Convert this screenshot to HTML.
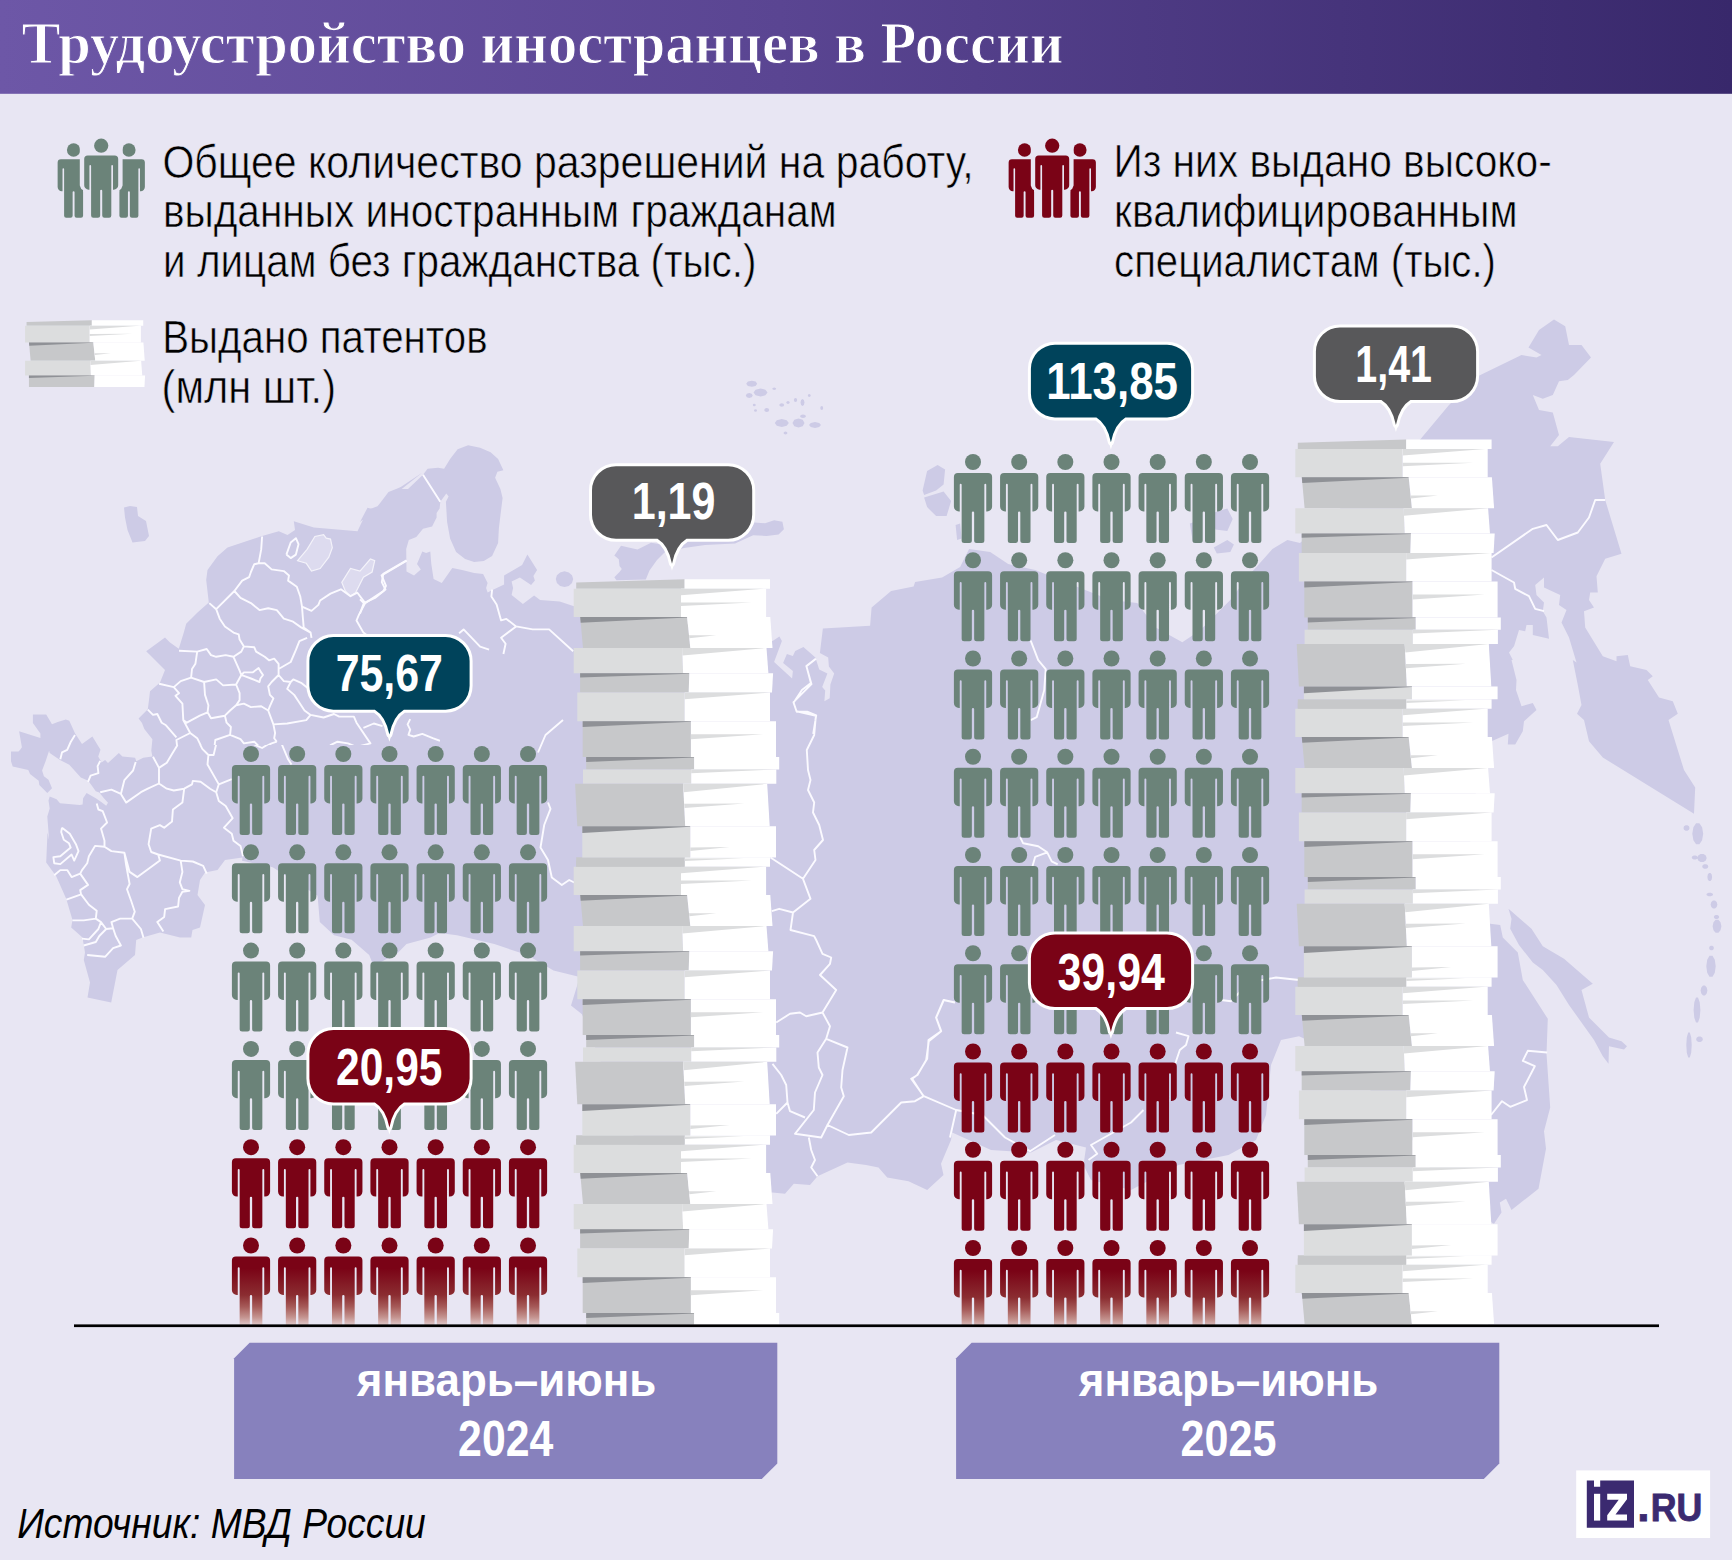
<!DOCTYPE html>
<html lang="ru"><head><meta charset="utf-8"><title>Трудоустройство иностранцев в России</title>
<style>
html,body{margin:0;padding:0;background:#e8e6f3;}
body{width:1732px;height:1560px;overflow:hidden;}
svg{display:block}
text{font-family:"Liberation Sans",sans-serif;}
.ttl{font-family:"Liberation Serif",serif;font-weight:bold;fill:#fff;stroke:url(#hg);stroke-width:1px;}
.lg{fill:#000;stroke:#e8e6f3;stroke-width:0.6px;}
.num{font-weight:bold;fill:#fff;}
.src{font-style:italic;fill:#000;}
</style></head><body>
<svg width="1732" height="1560" viewBox="0 0 1732 1560">
<defs>
<linearGradient id="hg" gradientUnits="userSpaceOnUse" x1="0" y1="0" x2="1732" y2="0"><stop offset="0" stop-color="#6d57a7"/><stop offset="0.45" stop-color="#5a4592"/><stop offset="1" stop-color="#38286b"/></linearGradient>
<linearGradient id="fadeR" gradientUnits="userSpaceOnUse" x1="0" y1="23" x2="0" y2="81"><stop offset="0" stop-color="#7a0316"/><stop offset="0.46" stop-color="#8b2d31"/><stop offset="0.66" stop-color="#a65a58"/><stop offset="0.84" stop-color="#c4938f"/><stop offset="0.945" stop-color="#d9bcbc"/><stop offset="1" stop-color="#e6d6da"/></linearGradient>

<g id="p"><circle cx="0" cy="0" r="8"/><path d="M-15.1,11H15.1A4,4 0 0 1 19.1,15V44.4A5,5 0 0 1 14.1,49.4H13.25V22.75A.95,.95 0 0 0 11.35,22.75V78.5A2.5,2.5 0 0 1 8.85,81H3.65A2.5,2.5 0 0 1 1.15,78.5V50.6A1.15,1.15 0 0 0 -1.15,50.6V78.5A2.5,2.5 0 0 1 -3.65,81H-8.85A2.5,2.5 0 0 1 -11.35,78.5V22.75A.95,.95 0 0 0 -13.25,22.75V49.4H-14.1A5,5 0 0 1 -19.1,44.4V15A4,4 0 0 1 -15.1,11Z"/></g>
<g id="u"><polygon points="2.5,3.2 110.9,0 110.9,9.5 2.5,9.5" fill="#c7c8ca"/><polygon points="110.9,0 196.3,0 196.3,9.5 110.9,9.5" fill="#ffffff"/><polygon points="0,9.5 107.3,9.5 107.3,37.7 0,37.7" fill="#dcddde"/><polygon points="107.3,9.5 192.4,9.5 192.4,37.7 107.3,37.7" fill="#ffffff"/><polygon points="107.3,9.5 190,9.5 107.3,16" fill="#dcddde"/><polygon points="107.3,23.3 178.2,23.2 107.3,26.7" fill="#dcddde"/><polygon points="6.5,37.7 113.4,37.7 116.6,68.8 9.3,68.8" fill="#c7c8ca"/><polygon points="6.5,37.7 113.4,37.7 113.4,38.3 7,43.5" fill="#8f9196"/><polygon points="113.4,37.7 196.6,37.7 198.8,68.8 116.6,68.8" fill="#ffffff"/><polygon points="115.3,56.1 142.6,56.1 115.6,59" fill="#dcddde"/><polygon points="0,68.8 108.4,68.8 109.4,94 0,94" fill="#dcddde"/><polygon points="108.4,68.8 192.8,68.8 194.7,94 109.4,94" fill="#ffffff"/><polygon points="108.4,68.8 192.5,68.8 108.7,76.2" fill="#dcddde"/><polygon points="6.4,94 115.6,94 115,113.4 6.4,113.4" fill="#c7c8ca"/><polygon points="6.4,94 115.6,94 115.6,94.5 6.4,98.2" fill="#8f9196"/><polygon points="115.6,94 199.4,94 198.3,113.4 115,113.4" fill="#ffffff"/><polygon points="3.6,113.4 110.9,113.4 110.9,142 3.6,142" fill="#dcddde"/><polygon points="110.9,113.4 196.3,113.4 196.3,142 110.9,142" fill="#ffffff"/><polygon points="110.9,113.4 195.5,113.4 110.9,120" fill="#dcddde"/><polygon points="9,142 117.2,142 117.2,177.9 9,177.9" fill="#c7c8ca"/><polygon points="9,142 117.2,142 117.2,142.5 9,147.9" fill="#8f9196"/><polygon points="117.2,142 202.3,142 202.3,177.9 117.2,177.9" fill="#ffffff"/><polygon points="117.2,155 189.6,155 117.2,160.1" fill="#dcddde"/><polygon points="12.5,177.9 120.4,177.9 120.4,190.2 12.5,190.2" fill="#c7c8ca"/><polygon points="12.5,177.9 120.4,177.9 120.4,178.4 12.5,182.9" fill="#8f9196"/><polygon points="120.4,177.9 205.5,177.9 205.5,190.2 120.4,190.2" fill="#ffffff"/><polygon points="9.3,190.2 117.5,190.2 117.5,204.6 9.3,204.6" fill="#dcddde"/><polygon points="117.5,190.2 202.6,190.2 202.6,204.6 117.5,204.6" fill="#ffffff"/><polygon points="117.5,190.2 202.5,190.2 117.5,194" fill="#dcddde"/><polygon points="1.4,204.6 109.4,204.6 111.5,247 3.6,247" fill="#c7c8ca"/><polygon points="109.4,204.6 193.5,204.6 196,247 111.5,247" fill="#ffffff"/><polygon points="109.4,204.6 193.5,204.6 110,213.1" fill="#dcddde"/><polygon points="110.5,224.5 170.6,224.3 110.8,228.7" fill="#dcddde"/><polygon points="8.6,247 116.6,247 116.6,278.2 8.6,278.2" fill="#dcddde"/><polygon points="8.6,247 116.6,247 116.6,247.6 8.6,253.7" fill="#8f9196"/><polygon points="116.6,247 202.3,247 202.3,278.2 116.6,278.2" fill="#ffffff"/><polygon points="116.6,268.3 156,267.7 116.6,271.9" fill="#dcddde"/></g>
<g id="uh"><polygon points="2.5,3.2 110.9,0 110.9,9.5 2.5,9.5" fill="#c7c8ca"/><polygon points="110.9,0 196.3,0 196.3,9.5 110.9,9.5" fill="#ffffff"/><polygon points="0,9.5 107.3,9.5 107.3,37.7 0,37.7" fill="#dcddde"/><polygon points="107.3,9.5 192.4,9.5 192.4,37.7 107.3,37.7" fill="#ffffff"/><polygon points="107.3,9.5 190,9.5 107.3,16" fill="#dcddde"/><polygon points="107.3,23.3 178.2,23.2 107.3,26.7" fill="#dcddde"/><polygon points="6.5,37.7 113.4,37.7 116.6,68.8 9.3,68.8" fill="#c7c8ca"/><polygon points="6.5,37.7 113.4,37.7 113.4,38.3 7,43.5" fill="#8f9196"/><polygon points="113.4,37.7 196.6,37.7 198.8,68.8 116.6,68.8" fill="#ffffff"/><polygon points="115.3,56.1 142.6,56.1 115.6,59" fill="#dcddde"/><polygon points="0,68.8 108.4,68.8 109.4,94 0,94" fill="#dcddde"/><polygon points="108.4,68.8 192.8,68.8 194.7,94 109.4,94" fill="#ffffff"/><polygon points="108.4,68.8 192.5,68.8 108.7,76.2" fill="#dcddde"/><polygon points="6.4,94 115.6,94 115,113.4 6.4,113.4" fill="#c7c8ca"/><polygon points="6.4,94 115.6,94 115.6,94.5 6.4,98.2" fill="#8f9196"/><polygon points="115.6,94 199.4,94 198.3,113.4 115,113.4" fill="#ffffff"/></g>
<g id="uc"><polygon points="2.5,0 110.9,0 110.9,9.5 2.5,9.5" fill="#c7c8ca"/><polygon points="110.9,1.2 170,1 110.9,3.8" fill="#dcddde"/></g>
<clipPath id="cpp"><rect x="0" y="0" width="1732" height="1325"/></clipPath>
<clipPath id="c24"><rect x="560" y="570" width="240" height="754.6"/></clipPath>
<clipPath id="c25"><rect x="1280" y="430" width="240" height="894.6"/></clipPath>
<clipPath id="c25a"><rect x="1280" y="430" width="240" height="269.2"/></clipPath>
</defs>
<rect width="1732" height="1560" fill="#e8e6f3"/>
<g id="map"><path fill="#cdcbe6" d="M360,522.1L367.5,507.8L375,509.8L388.5,492.1L399.8,487.6L408,489.1L423,474.8L427.6,468.8L438.1,467.7L444.1,468.8L450.1,459L457.6,449.3L468.1,445.2L480.1,447.8L490.6,452.3L498.1,459L503.4,470.3L497.4,471.8L495.1,477.8L500.4,489.1L502.6,498.1L501.1,510.1L498.9,528.1L498.1,543.1L492.1,555.9L483.8,561.1L474.1,561.9L465.1,558.9L456.1,552.1L450.1,538.6L447.1,522.1L445.9,501.8L448.6,496.6L446.3,493.6L440.3,501.8L439.6,508.6L436.6,513.1L436.6,517.6L432.1,526.6L423,528.8L416.3,537.1L408.8,540.1L406.2,549.1L406.5,571.6L414,575.4L420.8,569.4L417,564.1L422.3,551.4L426.1,552.9L430.3,551.4L431.3,564.1L433.6,579.1L441.8,582.9L452.3,567.9L462.1,570.1L474.1,573.1L483.1,573.9L487.6,582.9L486.1,588.1L487.6,592.6L493.6,589.6L504.1,584.4L504.1,575.4L522.1,564.9L527.4,554.4L537.1,570.1L533.4,576.1L534.9,580.6L531.1,585.1L519.9,577.6L511.6,581.4L513.1,588.1L511.6,594.9L522.9,603.9L534.1,595.6L540.1,600.1L559.7,601.6L573.2,606.1L772.6,641.1L779.4,636.6L781.9,641.1L774.1,662.1L792.1,678.6L792.9,671.1L783.1,662.9L786.9,653.9L792.9,656.1L795.2,650.9L803.4,647.1L815.4,657.6L819.2,669.6L827.4,673.4L822.2,686.9L825.2,690.6L824.4,701.2L829.7,698.2L830.4,684.6L834.2,673.4L828.9,666.6L828.2,657.6L819.9,653.1L822.9,628.3L822.9,628.4L870.1,625.7L871.6,607.6L891.1,591.1L913.6,586.6L915.1,582.1L942.1,577.6L960.1,567.1L969.1,549.1L990.2,552.1L1008.2,564.1L1035.2,570.1L1080.2,588.1L1110.3,600.1L1137.3,603.1L1155.3,627.2L1182.3,642.2L1200.3,630.2L1218.3,612.1L1230.3,600.1L1248.4,576.1L1272.4,549.1L1287.4,540.1L1300,543.1L1420.2,439.5L1449,405L1477.8,376.2L1521.5,355L1536.5,357.5L1541.5,355L1528.5,347.5L1539,330L1554,319.5L1565.2,326.2L1569,345L1581.5,345L1591,357.5L1574,375L1567.8,380L1559,381.2L1552.8,395L1542.8,398.8L1532.8,395L1539,410L1552.8,412.5L1559,435L1550.2,446.2L1557.8,446.2L1569,437L1614,442L1600.2,463.8L1605.2,500L1621.5,553.8L1605.2,558.8L1596.5,576.2L1597.8,592.5L1590.2,592.5L1589,600L1594,607.5L1584,611.2L1585.2,627.5L1602.8,656.2L1616.5,661.2L1616.5,656.2L1627.8,655L1630.2,666.2L1646.5,670L1652.8,676.2L1647.8,680L1659,697.5L1672.8,701.2L1677.8,713.8L1668.5,720L1684,770L1695.2,787.5L1694,813.8L1602.8,757.5L1589,741.2L1584,720L1577,713.8L1581.5,705L1577.8,685L1572.8,660L1576.5,662.5L1569,637.5L1561.5,622.5L1566.5,610L1559,605L1560.2,595L1544,587.5L1544,577.5L1535.2,585L1536.5,595L1544,602.5L1542.8,611.2L1546.5,617.5L1549,638.8L1532.8,635L1532.8,625L1526.5,625L1525.2,631.2L1519,630L1514,646.2L1509,652.5L1512.8,660L1511.5,660L1516.5,680L1516,690L1521.5,706.2L1532.8,703L1536.5,710L1524,721.2L1522.8,731.2L1515.2,744.5L1507.8,744.5L1508.5,733.8L1491.5,741.2L1480,760L1470,840L1484,915L1490.2,923.8L1500.2,925L1502.8,937.5L1517.8,952.5L1522.8,980L1547.8,1018.8L1546.5,1053.8L1550.2,1107.5L1544,1131.2L1546,1148.8L1538.5,1188.8L1511.5,1210L1506,1198.8L1499.8,1202.5L1501.5,1212.5L1494,1223.8L1450,1200L1400,1120L1330,1050L1299,1036.2L1281,1040L1271,1065L1266,1115L1256,1140L1228.5,1155L1178.5,1165L1131,1190L1091,1180L1083.5,1165L1086,1147.5L1056,1140L1031,1152.5L991,1150L952.2,1132.5L951,1140L941,1163.8L943.5,1175L927.2,1190L908.5,1181.2L887.2,1177.5L878.5,1167.5L866,1165L847.5,1162.5L817.5,1176.2L810,1185L793.8,1183.8L785,1193.8L772.5,1192.5L700,1190L640,1150L600,1060L582,1014.3L571,1005.5L579.8,977L553.5,970.4L527.2,955.1L494.3,944.1L457,935.3L439.4,933.1L430.6,937.5L406.5,944.1L397.7,952.9L373.6,966L369.2,955.1L351.6,939.7L334.1,935.3L319.8,922.1L317.6,895.8L272.7,867.3L242,860.7L242.5,857.5L225,860L217.5,870L205,872.5L200,880L197.5,895L205,905L200,927.5L192.5,930L191.2,937.5L180,937.5L160,932.5L142.5,937.5L136.2,940L135,955L117.5,970L111.2,1002.5L87.5,997.5L90,982.5L83.8,960L85,952.5L82.5,937.5L71.2,927.5L72.5,920L66.2,898.8L56.2,876.2L46.2,862.5L47.5,832.5L49.1,840L47.3,816.6L49.7,808.5L48.5,800.5L49.7,796.4L56.6,799.3L60,803.3L79.7,805.1L82.6,804.5L83.1,798.2L86.6,793L95.8,798.2L101.6,802.2L106.2,805.7L108,802.8L103.9,798.2L99.3,792.4L95.8,791.2L88.3,780.8L80.8,777.4L69.3,764.7L60,760L49.7,753.1L49.1,750.8L45.6,761.2L42.1,770.4L43.9,776.2L48.5,779.7L52,788.3L47.3,793L39.3,784.9L38.7,780.8L30,773.9L28.3,769.9L12.7,766.4L11,761.2L11,751.4L18.5,751.4L20.2,749.7L21.9,747.3L19.1,731.2L40.4,738.1L40.4,733.5L32.9,723.1L32.9,714.4L46.2,714.4L52,724.2L57.7,721.9L65.8,719.6L69.3,720.8L75.1,733.5L82,743.9L92.4,736.4L100.5,749.7L98.2,756.6L101.6,762.4L105.1,760L108,762.9L118.9,753.1L122.4,756.6L135.1,757.7L136.3,761.2L143.2,757.7L152.4,756.6L151.3,750.8L152.4,739.3L144.3,728.9L142,723.1L138.6,718.5L147.8,709.2L149,700L150,691.2L160,682.5L165,670L155,660L146.2,651.2L165,637.5L170,642.5L178.8,648.8L183.8,632.5L186.2,623.8L197.5,612.5L208.8,602.5L206.2,580L207.5,570L217.5,556.2L227.5,547.5L242.5,542.5L261.2,536.2L278.8,531.2L287.5,535L295,530L293.8,521.2L313.8,527.5L357.5,531.2L367.5,510L377.5,506.2L388.8,492.5L400,487.5L422.5,472.5ZM124,507.5L130,506L137,507L138,516L146,521L149,536L145,541L132.5,542.5L127.5,530L125,517.5ZM1508.5,908.8L1531.5,928.8L1542.8,946.2L1564,958.8L1592.8,983.8L1581.5,990L1589,1017.5L1609,1037.5L1621.5,1041.2L1627,1046.2L1624,1049.5L1609,1046.2L1608.5,1063.8L1602.8,1056.2L1594,1040L1569,1005L1556.5,985L1542.8,970L1532.8,962.5L1519,945L1510.2,928.8L1511.5,918.8ZM614.3,555.5L621,545.8L637.5,549.5L651,542.8L666.1,545L684.1,534.5L705.1,530L727.6,532.3L747.9,533.8L754.6,522.5L765.1,523.3L774.1,520.3L782.4,521.8L783.9,529.3L778.6,534.5L766.6,536L753.1,535.3L735.1,543.5L705.1,545L684.1,548L664.5,552.5L657,560L649.5,570.6L645.8,579.6L616.5,580.3L614.3,577.3L619.5,572.1L621.8,569.1L619.5,566.1L618.8,559.3ZM573.2,579.1L572,583L568.8,585.9L564.5,586.9L560.1,585.9L556.9,583L555.8,579.1L556.9,575.2L560.1,572.4L564.5,571.3L568.8,572.4L572,575.2ZM922.6,490.6L927.1,471L937.6,465L945.1,469.5L943.6,484.5L936.1,490.6L924.1,495.1ZM924.1,497.5L943.6,491.5L951.1,501.1L946.6,516.1L936.1,516.1L927.1,507.1ZM955.6,525.1L960.1,523.6L961.6,538.6L957.1,540.1ZM1189.8,523.6L1198.8,520.6L1201.8,537.1L1192.8,541.6ZM1212.3,513.1L1227.3,508.6L1232.7,519.1L1227.3,531.1L1215.3,529.6ZM1213.8,547.6L1227.3,540.1L1233.9,544.6L1230.3,552.1L1216.8,553.6ZM757.2,383.8L755.6,385.9L751.8,386.8L747.9,385.9L746.2,383.8L747.9,381.6L751.8,380.8L755.6,381.6ZM767.5,392.5L765.4,395.3L760.5,396.5L755.6,395.3L753.5,392.5L755.6,389.7L760.5,388.5L765.4,389.7ZM752.8,395.5L751.7,397.3L749.2,398L746.8,397.3L745.8,395.5L746.8,393.7L749.2,393L751.7,393.7ZM769.2,410L768.5,411.4L766.8,412L765,411.4L764.2,410L765,408.6L766.8,408L768.5,408.6ZM776.2,388.8L775.7,389.6L774.2,390L772.8,389.6L772.2,388.8L772.8,387.9L774.2,387.5L775.7,387.9ZM784.2,405L783.5,406.2L781.8,406.8L780,406.2L779.2,405L780,403.8L781.8,403.2L783.5,403.8ZM789.8,402.5L789.2,403.6L788,404L786.8,403.6L786.2,402.5L786.8,401.4L788,401L789.2,401.4ZM797.2,400L796.7,401.4L795.5,402L794.3,401.4L793.8,400L794.3,398.6L795.5,398L796.7,398.6ZM804.5,402.5L803.9,405L802.5,406L801.1,405L800.5,402.5L801.1,400L802.5,399L803.9,400ZM810.8,395.5L810.3,396.6L809.2,397L808.2,396.6L807.8,395.5L808.2,394.4L809.2,394L810.3,394.4ZM823.2,408L822.8,409.4L821.8,410L820.7,409.4L820.2,408L820.7,406.6L821.8,406L822.8,406.6ZM806,416.2L805.1,417.5L803,418L800.9,417.5L800,416.2L800.9,415L803,414.5L805.1,415ZM788.8,423L786.7,425.8L781.8,427L776.8,425.8L774.8,423L776.8,420.2L781.8,419L786.7,420.2ZM804.5,423L802.7,426.2L798.5,427.5L794.3,426.2L792.5,423L794.3,419.8L798.5,418.5L802.7,419.8ZM821,425L819.2,427.1L815,428L810.8,427.1L809,425L810.8,422.9L815,422L819.2,422.9ZM787.5,433L786.9,434.1L785.5,434.5L784.1,434.1L783.5,433L784.1,431.9L785.5,431.5L786.9,431.9ZM755.8,405L755.3,405.9L754.2,406.2L753.2,405.9L752.8,405L753.2,404.1L754.2,403.8L755.3,404.1ZM757,410.5L756.6,411.4L755.5,411.8L754.4,411.4L754,410.5L754.4,409.6L755.5,409.2L756.6,409.6ZM1689.5,828L1689,829.7L1687.4,830.7L1685.6,830.7L1684,829.7L1683.5,828L1684,826.3L1685.6,825.3L1687.4,825.3L1689,826.3ZM1703.2,833.8L1702.1,840.2L1699.4,844.2L1696.1,844.2L1693.4,840.2L1692.3,833.8L1693.4,827.3L1696.1,823.3L1699.4,823.3L1702.1,827.3ZM1697.8,857.5L1697.2,858.7L1695.7,859.5L1693.8,859.5L1692.3,858.7L1691.7,857.5L1692.3,856.3L1693.8,855.5L1695.7,855.5L1697.2,856.3ZM1706.7,858L1705.8,860.5L1703.5,862L1700.5,862L1698.2,860.5L1697.3,858L1698.2,855.5L1700.5,854L1703.5,854L1705.8,855.5ZM1708.3,866.5L1707.7,867.9L1706.2,868.7L1704.3,868.7L1702.8,867.9L1702.2,866.5L1702.8,865.1L1704.3,864.3L1706.2,864.3L1707.7,865.1ZM1712.1,877L1711.7,879.5L1710.5,881L1709,881L1707.8,879.5L1707.4,877L1707.8,874.5L1709,873L1710.5,873L1711.7,874.5ZM1713.1,894.5L1712.5,895.6L1710.8,896.2L1708.7,896.2L1707,895.6L1706.4,894.5L1707,893.4L1708.7,892.8L1710.8,892.8L1712.5,893.4ZM1717.4,904.5L1716.7,907L1715,908.5L1713,908.5L1711.3,907L1710.6,904.5L1711.3,902L1713,900.5L1715,900.5L1716.7,902ZM1719.2,917L1718.7,918.2L1717.3,919L1715.7,919L1714.3,918.2L1713.8,917L1714.3,915.8L1715.7,915L1717.3,915L1718.7,915.8ZM1721.4,926.2L1720.5,930.3L1718.4,932.7L1715.6,932.7L1713.5,930.3L1712.6,926.2L1713.5,922.2L1715.6,919.8L1718.4,919.8L1720.5,922.2ZM1713.9,948L1713.4,949.4L1712.2,950.2L1710.8,950.2L1709.6,949.4L1709.1,948L1709.6,946.6L1710.8,945.8L1712.2,945.8L1713.4,946.6ZM1715.7,966.2L1714.8,972.7L1712.5,976.7L1709.5,976.7L1707.2,972.7L1706.3,966.2L1707.2,959.8L1709.5,955.8L1712.5,955.8L1714.8,959.8ZM1707.4,990.5L1706.7,993.6L1705,995.5L1703,995.5L1701.3,993.6L1700.6,990.5L1701.3,987.4L1703,985.5L1705,985.5L1706.7,987.4ZM1700.4,1010L1699.7,1017.7L1698,1022.5L1696,1022.5L1694.3,1017.7L1693.6,1010L1694.3,1002.3L1696,997.5L1698,997.5L1699.7,1002.3ZM1691.7,1045L1691.2,1052.7L1689.8,1057.5L1688.2,1057.5L1686.8,1052.7L1686.3,1045L1686.8,1037.3L1688.2,1032.5L1689.8,1032.5L1691.2,1037.3ZM1702.9,1039.2L1702.2,1040.9L1700.5,1042L1698.5,1042L1696.8,1040.9L1696.1,1039.2L1696.8,1037.6L1698.5,1036.5L1700.5,1036.5L1702.2,1037.6Z"/><path fill="#dddbef" stroke="#f4f3fa" stroke-width="1.2" d="M297.6,560.7L307.1,549.4L314.9,536.5L323.6,534.7L326.2,538.2L330.5,539.1L332.3,547.7L328.8,557.2L320.1,568.5L311.5,571.1L306.3,563.3ZM341.8,582.4L350.5,568.5L360,571.1L370.4,559L374.7,560.7L372.1,572L363.4,577.2L355.6,592.7L350.5,596.2L345.3,591Z"/><clipPath id="cb1"><rect x="140" y="500" width="300" height="245"/></clipPath><clipPath id="cb2"><polygon points="0,680 140,680 140,745 440,745 440,1000 0,1000"/></clipPath><path fill="none" stroke="#fbfaff" stroke-width="1.9" stroke-linejoin="round" clip-path="url(#cb1)" d="M262.1,536.5L261.2,549.4L258.6,563.3L254.3,564.2L250.9,572L249.1,577.2L242.2,580.6L234.4,591L216.2,609.2L209.3,603.1M258.6,563.3L264.7,563.3L271.6,569.4L283.8,571.1L289,575.4L288.1,580.6L296.8,586.7L300.2,596.2L302,606.6L302.8,617L303.7,627.4L310.6,632.6L311.5,637.8M234.4,591L240.5,597.9L250.9,603.1L259.5,610.1L268.2,608.3L276.8,610.1L283.8,618.7L292.4,621.3L301.1,627.4L310.6,632.6M302,606.6L311.5,610.9L318.4,604.9L320.1,600.5L330.5,593.6L340.9,589.3L350.5,596.2L357.4,592.7L365.2,603.1L383.4,591L386,585.8L381.6,575.4L406.7,560.7M365.2,603.1L359.1,614.4L356.5,620.5L363.4,632.6L366.9,635.2M216.2,609.2L219.7,618.7L224.9,626.5L233.5,632.6L238.7,634.3L239.6,639.5L243.9,646.4L254.3,647.3L256.1,651.6L264.7,656.8L269,660.3L274.2,658.6L278.6,663.8L278.6,669L290.7,662L295.9,649.9L299.4,641.2L307.1,637.8M243.9,646.4L241.3,651.6L233.5,656.8L225.7,655.1L216.2,656.8L211,655.1L206.7,649L197.2,651.6L179,650.8M197.2,651.6L195.4,663.8L192,669L191.1,677.6L180.7,681.1L173.8,687.1L159.1,683.7M191.1,677.6L204.1,682L216.2,679.4L223.1,685.4L236.1,684.5L241.3,675L239.6,670.7L233.5,656.8M241.3,675L243.9,672.4L252.6,672.4L258.6,668.1L261.2,672.4L263,675L260.4,678.5L259.5,682L250.9,678.5L243.9,675.9L241.3,675M236.1,684.5L239.6,693.2L239.6,700.1L236.1,705.3L243.9,703.6L250.9,707.1L261.2,706.2L268.2,710.5L273.4,724.4L275.1,733L274.2,738.2L276.8,741.7M278.6,669L278.6,675L271.6,682L268.2,686.3L269.9,694.9L273.4,698.4L269.9,706.2L268.2,710.5M204.1,682L205,694.9L208.4,705.3L207.6,712.3L211,718.3L224.9,715.7L230.1,710.5L236.1,705.3M173.8,687.1L179,693.2L175.5,695.8L182.4,703.6L183.3,720.1L186.8,722.7L199.8,715.7L207.6,712.3M183.3,720.1L190.2,733L176.4,740L177.2,746.9L169.4,752.1L166.8,761.6L158.2,768.6L160.8,783.3L164.2,790M147.8,709.7L153,714.9L157.3,714L161.7,722.7L166,725.3L176.4,737.4M190.2,733L197.2,738.2L201.5,746.9L205.8,752.1L209.3,762.5L212.7,776.4L216.2,783.3L212.7,790M224.9,715.7L226.6,722.7L230.9,727L230.1,734.8L215.3,740L213.6,753.8L209.3,756.4M230.1,734.8L240.5,739.1L243.9,743.4L254.3,741.7L261.2,748.6L271.6,743.4L276.8,741.7M273.4,724.4L287.2,723.5L306.3,720.1L310.6,714.9L323.6,717.5L334,714L339.2,716.6L353.9,716.6L356.5,722.7L370.4,743.4L356.5,746.9L347.9,743.4L337.5,741.7L330.5,745.2L323.6,757.3L318.4,762.5M278.6,675L283.8,681.1L290.7,682L287.2,688.9L294.2,694.9L299.4,702.7L304.5,710.5L310.6,714.9M290.7,682L293.3,679.4L301.1,682.8L308.9,688.9M363.4,727.9L373.8,723.5L382.5,726.1M410.2,719.2L407.6,724.4L410.2,729.6L408.5,734.8L413.7,736.5L422.3,733.9L432.7,738.2L440,740.8M286.4,554.6L290.7,542.5L295.9,538.2L298.5,544.2L295.9,554.6L290.7,558.1L286.4,554.6"/><path fill="none" stroke="#fbfaff" stroke-width="1.9" stroke-linejoin="round" clip-path="url(#cb2)" d="M75,735L70.7,742L67.2,749.8L62,752.4L60.3,759.3M100.2,761L97.6,766.2L98.4,773.1L90.6,775.7L88,781.8M135.7,761.9L133.1,770.5L124.4,780.1L120.9,793.9L126.1,802.6L140.9,792.2L147.8,788.7L159,783.5M100.2,792.2L111.4,789.6L120.9,793.9M153,756.7L159,767.9L159,783.5L166.8,788.7L173.8,790.5L184.2,788.7L192,784.4L192.8,780.9L200.6,781.8L210.1,788.7L216.2,792.2L218.8,784.4L231.8,779.2M159,767.9L166.8,762.7L172,754.1L177.2,745.4L175.5,738.5L182.4,732.4L186.8,731.6M148.3,709.6L153.8,716L159.9,722L168.6,730.7L177.2,737.6M177.2,690L177.2,695.2L183.3,702.1L182.4,716L186.8,722.9L194.5,721.2L198,716L206.7,711.7L210.1,718.6L222.3,716L225.7,719.4L231.8,730.7L217.1,740.2L213.6,755L208.4,755M186.8,722.9L186.8,731.6L196.3,736.8L202.3,748.9L208.4,755L207.5,764.5L218.8,784.4M225.7,719.4L237,705.6L240.5,695.2L240.5,690M203.2,690L204.9,700.4L206.7,711.7M241.3,705.6L250,707.3L262.1,705.6L269,710.8L272.5,721.2L276,736.8L269,743.7L262.1,748L246.5,741.1L241.3,736.8L231.8,730.7M272.5,721.2L276,726.4L286.4,724.6L295,722L303.7,722.9L310.6,714.2L324.5,717.7M269,710.8L273.4,700.4L271.6,690M276,736.8L281.2,742.8L288.1,759.3L291.5,764.5M216.2,792.2L218.8,800.9L225.7,806.1L232.7,818.2L224,827.7L231.8,833.8L233.5,840.7L240.5,845.9L243,856.3M184.2,788.7L182.4,802.6L172.9,809.5L172,821.6L164.2,827.7L159.9,825.1L151.2,828.6L148.6,844.2L151.2,852L158.2,854.5L159.9,860.6L137.4,877.1L129.6,871.9L124.4,852.8L111.4,851.1L104.5,846.8M96.7,803.5L98.4,809.5L102.7,811.2L107.1,822.5L101,828.6L104.5,840.7L104.5,846.8L95,845.9L88.9,856.3L87.2,863.2L82,870.1L80.2,873.6M158.2,854.5L180.7,860.6L192.8,861.5L203.2,865.8L206.7,873.6M180.7,860.6L182.4,871.9L179.8,882.3L182.4,889.2L189.4,890.9L182.4,891.8L179,897.9L178.1,906.5L165.1,909.1L164.2,916.9L157.3,922.1L163.4,931.6M124.4,852.8L126.1,864.9L129.6,884L127,889.2L131.3,901.3L134.8,911.7L132.2,918.6L140.9,929L143.5,937.7M80.2,873.6L71.6,877.1L67.2,870.1L60.3,870.1L54.2,875.3M80.2,873.6L88,884.9L80.2,890.1L81.1,894.4L88.9,904.8L96.7,910.8L95.8,918.6L101,922.1L106.2,929L113.1,928.2L111.4,922.1L120.1,918.6L132.2,918.6M81.1,894.4L66.4,899.6M95.8,918.6L83.7,920.4L72.4,920.4M101,922.1L98.4,929L88.9,939.4L82,938.6M106.2,929L99.3,936L95.8,942L83.7,945.5M113.1,928.2L115.7,936L120.9,945.5L113.1,948.1L105.3,956.7L87.2,955M62,827.7L69.8,833.8L75.9,844.2L78.5,851.1L74.2,860.6L71.6,854.5L60.3,864.1L54.2,863.2L53.4,857.1L60.3,856.3L70.7,847.6L69,843.3L63.8,839.8L61.2,832L62,827.7"/><path fill="none" stroke="#fbfaff" stroke-width="1.9" stroke-linejoin="round" d="M815.5,720L814.2,735L806.8,750L808,770L810.5,780L808,790L814.2,802.5L813,812.5L819.2,825L823,840L814.2,850L815.5,860L803,878.8L810.5,898.8L793,912.5L790.5,930L814.2,936.2L816.2,940M770.5,857.5L803,878.8M771.8,911.2L779.2,908.8L793,912.5M538,752.5L545.5,735L563,720M548,802.5L550.5,808.8L544.2,825L540.5,847.5L548,860L551.8,877.5L561.8,885L569.2,880L574.2,882.5M816.2,940L822.5,953.8L831.2,957.5L830,963.8L820,975L836.2,990L822.5,1012.5L830,1026.2L826.2,1038.8L847.5,1047.5L842.5,1070L841.2,1087.5L843.8,1096.2L827.5,1125L848.8,1135L871.2,1132.5L901.2,1102.5L915,1101.2L923.8,1096.2L956.2,1110M822.5,1012.5L806.2,1016.2L800,1012.5L790,1013.8L776.2,1022.5M826.2,1038.8L817.5,1052.5L818.8,1067.5L822.5,1075L815,1092.5L813.8,1110L795,1133.8L821.2,1137.5L827.5,1125M772.5,1063.8L781.2,1075L786.2,1085L787.5,1102.5L790,1111.2L805,1117.5M787.5,1102.5L776.2,1113.8M808.8,1137.5L811.2,1150L815,1160L811.2,1167.5L817.5,1176.2M923.8,1096.2L911.2,1078.8L917.5,1075L926.2,1060L928.8,1041.2L941.2,1031.2L936.2,1017.5L943.8,1000L955,1002.5M956.2,1110L982.5,1115L1005,1137.5L1030,1151.2L1055,1135M956.2,1110L950,1137.5M1547.2,1052.5L1527.8,1050.8L1522.8,1060.8L1534.8,1066.2L1524,1087L1527,1100L1510.2,1106.8L1502,1101.2L1491,1115M1605.2,500L1595.2,500L1589,517.5L1577.8,532.5L1557.8,540L1546.5,525L1532.8,528.8L1491.5,557.5M1491.5,570L1514,582.5L1515.2,588.8L1529,596.2L1535.2,608.8L1544,611.2M816,658.7L806.4,666.2L811.5,684.2L793.5,702.2L796.5,711.2L816,715.7L815.4,720.2M1030.7,640.7L1038.2,660.2L1045.7,669.2L1044.2,690.2L1036.7,717.2L1030.7,720.2M1020.2,837.3L1023.2,843.3L1038.2,846.3L1047.2,852.3L1051.7,861.3L1057.7,864.3M1047.2,852.3L1035.2,856.8L1032.2,867.3M815.4,659.1L806.4,665.9L810.9,683.1L801.9,689.9L793.6,702.7L796.7,711.7L807.2,711.7L816.2,715.4L813.2,734M923.5,1096.2L912.2,1078.8L917.2,1075L927.2,1058.8L928.5,1040L941,1031.2L936,1017.5L943.5,1000L954.8,1002.5M1143.5,1110L1131,1122.5L1091,1145L1097.2,1153.8L1088.5,1160M1176,1032.5L1188.5,1036.2L1186,1045L1179.8,1050L1174.8,1065M1221,1000L1231,1001.2L1236,996.2L1248.5,982.5L1276,977.5L1299,980M423,474.8L440.3,501.8M406.5,560.4L383.3,573.9L381.8,582.1L385.5,589.6L375,597.9L363.8,603.1L360,599.4M363.8,603.1L360,613.6M492.1,589.6L491.4,596.4L496.6,604.6L501.1,620.4L506.4,618.9L516.1,626.4L532.6,629.4L549.1,629.4L573.2,651.2M516.1,626.4L501.1,637.7L505.6,643.7L503.4,654M459.1,633.2L463.6,629.4L480.1,646.7L489.1,649.7"/></g>
<rect x="0" y="0" width="1732" height="93.8" fill="url(#hg)"/>
<text class="ttl" x="21.43" y="63" font-size="59" textLength="1042.10" lengthAdjust="spacingAndGlyphs">Трудоустройство иностранцев в России</text>
<g fill="#6b8379"><use href="#p" transform="translate(73.6,150) scale(0.836)"/><use href="#p" transform="translate(128.9,150) scale(0.836)"/><path d="M79.8,140V185.4Q80.6,189 83.3,190.3V192H101.2V140Z" fill="#e8e6f3"/><path d="M122.6,140V185.4Q121.8,189 119.1,190.3V192H101.2V140Z" fill="#e8e6f3"/><use href="#p" transform="translate(101.2,145.7) scale(0.89)"/></g>
<g fill="#7a0316"><use href="#p" transform="translate(1024.6,150) scale(0.836)"/><use href="#p" transform="translate(1079.9,150) scale(0.836)"/><path d="M1030.8,140V185.4Q1031.6,189 1034.3,190.3V192H1052.2V140Z" fill="#e8e6f3"/><path d="M1073.6,140V185.4Q1072.8,189 1070.1,190.3V192H1052.2V140Z" fill="#e8e6f3"/><use href="#p" transform="translate(1052.2,145.7) scale(0.89)"/></g>
<use href="#uh" transform="translate(25.06,320.2) scale(0.602,0.589)"/>
<text class="lg" x="162.38" y="177.6" font-size="46" textLength="811.22" lengthAdjust="spacingAndGlyphs">Общее количество разрешений на работу,</text>
<text class="lg" x="162.95" y="226.9" font-size="46" textLength="673.81" lengthAdjust="spacingAndGlyphs">выданных иностранным гражданам</text>
<text class="lg" x="163.10" y="277.2" font-size="46" textLength="593.35" lengthAdjust="spacingAndGlyphs">и лицам без гражданства (тыс.)</text>
<text class="lg" x="162.23" y="352.9" font-size="46" textLength="325.37" lengthAdjust="spacingAndGlyphs">Выдано патентов</text>
<text class="lg" x="161.61" y="403.1" font-size="46" textLength="174.42" lengthAdjust="spacingAndGlyphs">(млн шт.)</text>
<text class="lg" x="1113.40" y="177.3" font-size="46" textLength="438.39" lengthAdjust="spacingAndGlyphs">Из них выдано высоко-</text>
<text class="lg" x="1114.07" y="226.7" font-size="46" textLength="403.52" lengthAdjust="spacingAndGlyphs">квалифицированным</text>
<text class="lg" x="1114.09" y="277.2" font-size="46" textLength="381.87" lengthAdjust="spacingAndGlyphs">специалистам (тыс.)</text>
<g clip-path="url(#c24)"><use href="#u" transform="translate(573.7,1135.2)"/><use href="#uc" transform="translate(573.7,1135.2)"/><use href="#u" transform="translate(573.7,857.2)"/><use href="#uc" transform="translate(573.7,857.2)"/><use href="#u" transform="translate(573.7,579.2)"/></g>
<g clip-path="url(#c25)">
<use href="#u" transform="translate(1295.3,1255.2)"/><use href="#uc" transform="translate(1295.3,1255.2)"/>
<use href="#u" transform="translate(1295.3,977.2)"/><use href="#uc" transform="translate(1295.3,977.2)"/>
<use href="#u" transform="translate(1295.3,699.2)"/><use href="#uc" transform="translate(1295.3,699.2)"/>
</g>
<g clip-path="url(#c25a)"><use href="#u" transform="translate(1295.3,439.5)"/></g>
<g clip-path="url(#cpp)"><g fill="#6b8379"><use href="#p" x="251" y="754"/><use href="#p" x="297.17" y="754"/><use href="#p" x="343.34" y="754"/><use href="#p" x="389.51" y="754"/><use href="#p" x="435.68" y="754"/><use href="#p" x="481.85" y="754"/><use href="#p" x="528.02" y="754"/></g><g fill="#6b8379"><use href="#p" x="251" y="852.3"/><use href="#p" x="297.17" y="852.3"/><use href="#p" x="343.34" y="852.3"/><use href="#p" x="389.51" y="852.3"/><use href="#p" x="435.68" y="852.3"/><use href="#p" x="481.85" y="852.3"/><use href="#p" x="528.02" y="852.3"/></g><g fill="#6b8379"><use href="#p" x="251" y="950.6"/><use href="#p" x="297.17" y="950.6"/><use href="#p" x="343.34" y="950.6"/><use href="#p" x="389.51" y="950.6"/><use href="#p" x="435.68" y="950.6"/><use href="#p" x="481.85" y="950.6"/><use href="#p" x="528.02" y="950.6"/></g><g fill="#6b8379"><use href="#p" x="251" y="1048.9"/><use href="#p" x="297.17" y="1048.9"/><use href="#p" x="343.34" y="1048.9"/><use href="#p" x="389.51" y="1048.9"/><use href="#p" x="435.68" y="1048.9"/><use href="#p" x="481.85" y="1048.9"/><use href="#p" x="528.02" y="1048.9"/></g><g fill="#7a0316"><use href="#p" x="251" y="1147.2"/><use href="#p" x="297.17" y="1147.2"/><use href="#p" x="343.34" y="1147.2"/><use href="#p" x="389.51" y="1147.2"/><use href="#p" x="435.68" y="1147.2"/><use href="#p" x="481.85" y="1147.2"/><use href="#p" x="528.02" y="1147.2"/></g><g fill="url(#fadeR)"><use href="#p" x="251" y="1245.5"/><use href="#p" x="297.17" y="1245.5"/><use href="#p" x="343.34" y="1245.5"/><use href="#p" x="389.51" y="1245.5"/><use href="#p" x="435.68" y="1245.5"/><use href="#p" x="481.85" y="1245.5"/><use href="#p" x="528.02" y="1245.5"/></g><g fill="#6b8379"><use href="#p" x="973" y="462"/><use href="#p" x="1019.17" y="462"/><use href="#p" x="1065.34" y="462"/><use href="#p" x="1111.51" y="462"/><use href="#p" x="1157.68" y="462"/><use href="#p" x="1203.85" y="462"/><use href="#p" x="1250.02" y="462"/></g><g fill="#6b8379"><use href="#p" x="973" y="560.25"/><use href="#p" x="1019.17" y="560.25"/><use href="#p" x="1065.34" y="560.25"/><use href="#p" x="1111.51" y="560.25"/><use href="#p" x="1157.68" y="560.25"/><use href="#p" x="1203.85" y="560.25"/><use href="#p" x="1250.02" y="560.25"/></g><g fill="#6b8379"><use href="#p" x="973" y="658.5"/><use href="#p" x="1019.17" y="658.5"/><use href="#p" x="1065.34" y="658.5"/><use href="#p" x="1111.51" y="658.5"/><use href="#p" x="1157.68" y="658.5"/><use href="#p" x="1203.85" y="658.5"/><use href="#p" x="1250.02" y="658.5"/></g><g fill="#6b8379"><use href="#p" x="973" y="756.75"/><use href="#p" x="1019.17" y="756.75"/><use href="#p" x="1065.34" y="756.75"/><use href="#p" x="1111.51" y="756.75"/><use href="#p" x="1157.68" y="756.75"/><use href="#p" x="1203.85" y="756.75"/><use href="#p" x="1250.02" y="756.75"/></g><g fill="#6b8379"><use href="#p" x="973" y="855"/><use href="#p" x="1019.17" y="855"/><use href="#p" x="1065.34" y="855"/><use href="#p" x="1111.51" y="855"/><use href="#p" x="1157.68" y="855"/><use href="#p" x="1203.85" y="855"/><use href="#p" x="1250.02" y="855"/></g><g fill="#6b8379"><use href="#p" x="973" y="953.25"/><use href="#p" x="1019.17" y="953.25"/><use href="#p" x="1065.34" y="953.25"/><use href="#p" x="1111.51" y="953.25"/><use href="#p" x="1157.68" y="953.25"/><use href="#p" x="1203.85" y="953.25"/><use href="#p" x="1250.02" y="953.25"/></g><g fill="#7a0316"><use href="#p" x="973" y="1051.5"/><use href="#p" x="1019.17" y="1051.5"/><use href="#p" x="1065.34" y="1051.5"/><use href="#p" x="1111.51" y="1051.5"/><use href="#p" x="1157.68" y="1051.5"/><use href="#p" x="1203.85" y="1051.5"/><use href="#p" x="1250.02" y="1051.5"/></g><g fill="#7a0316"><use href="#p" x="973" y="1149.75"/><use href="#p" x="1019.17" y="1149.75"/><use href="#p" x="1065.34" y="1149.75"/><use href="#p" x="1111.51" y="1149.75"/><use href="#p" x="1157.68" y="1149.75"/><use href="#p" x="1203.85" y="1149.75"/><use href="#p" x="1250.02" y="1149.75"/></g><g fill="url(#fadeR)"><use href="#p" x="973" y="1248"/><use href="#p" x="1019.17" y="1248"/><use href="#p" x="1065.34" y="1248"/><use href="#p" x="1111.51" y="1248"/><use href="#p" x="1157.68" y="1248"/><use href="#p" x="1203.85" y="1248"/><use href="#p" x="1250.02" y="1248"/></g></g>
<rect x="74" y="1324.4" width="1585" height="2.7" fill="#000"/>
<polygon points="249.6,1342.7 777.3,1342.7 777.3,1463.5 761.8,1479 234.1,1479 234.1,1358.3" fill="#8781bd"/><text class="num" x="356.85" y="1396.3" font-size="46" textLength="299.49" lengthAdjust="spacingAndGlyphs">январь–июнь</text><text class="num" x="458.09" y="1455.6" font-size="50" textLength="95.21" lengthAdjust="spacingAndGlyphs">2024</text>
<polygon points="971.6,1342.7 1499.3,1342.7 1499.3,1463.5 1483.8,1479 956.1,1479 956.1,1358.3" fill="#8781bd"/><text class="num" x="1078.85" y="1396.3" font-size="46" textLength="299.49" lengthAdjust="spacingAndGlyphs">январь–июнь</text><text class="num" x="1180.46" y="1455.6" font-size="50" textLength="95.92" lengthAdjust="spacingAndGlyphs">2025</text>
<polygon points="387.2,734.2 391.6,734.2 389.4,741.7" fill="#fff"/><path d="M333.4,637.1H445.6A24,24 0 0 1 469.6,661.1V685.7A24,24 0 0 1 445.6,709.7H403.9Q393,716.2 389.4,734.6Q385.8,716.2 374.9,709.7H333.4A24,24 0 0 1 309.4,685.7V661.1A24,24 0 0 1 333.4,637.1Z" fill="#00435b" stroke="#fff" stroke-width="6" stroke-linejoin="round" paint-order="stroke"/><text class="num" x="335.63" y="690.7" font-size="51" textLength="107.32" lengthAdjust="spacingAndGlyphs">75,67</text>
<polygon points="669.8,563.3 674.2,563.3 672,570.8" fill="#fff"/><path d="M616,466.2H728.2A24,24 0 0 1 752.2,490.2V514.8A24,24 0 0 1 728.2,538.8H686.5Q675.6,545.3 672,563.7Q668.4,545.3 657.5,538.8H616A24,24 0 0 1 592,514.8V490.2A24,24 0 0 1 616,466.2Z" fill="#58585a" stroke="#fff" stroke-width="6" stroke-linejoin="round" paint-order="stroke"/><text class="num" x="631.72" y="519" font-size="51" textLength="83.71" lengthAdjust="spacingAndGlyphs">1,19</text>
<polygon points="387.2,1127 391.6,1127 389.4,1134.5" fill="#fff"/><path d="M333.4,1029.9H445.6A24,24 0 0 1 469.6,1053.9V1078.5A24,24 0 0 1 445.6,1102.5H403.9Q393,1109 389.4,1127.4Q385.8,1109 374.9,1102.5H333.4A24,24 0 0 1 309.4,1078.5V1053.9A24,24 0 0 1 333.4,1029.9Z" fill="#7a0316" stroke="#fff" stroke-width="6" stroke-linejoin="round" paint-order="stroke"/><text class="num" x="336.03" y="1085" font-size="51" textLength="106.45" lengthAdjust="spacingAndGlyphs">20,95</text>
<polygon points="1108.7,441.9 1113.1,441.9 1110.9,449.4" fill="#fff"/><path d="M1054.9,344.8H1167.1A24,24 0 0 1 1191.1,368.8V393.4A24,24 0 0 1 1167.1,417.4H1125.4Q1114.5,423.9 1110.9,442.3Q1107.3,423.9 1096.4,417.4H1054.9A24,24 0 0 1 1030.9,393.4V368.8A24,24 0 0 1 1054.9,344.8Z" fill="#00435b" stroke="#fff" stroke-width="6" stroke-linejoin="round" paint-order="stroke"/><text class="num" x="1046.20" y="399.4" font-size="51" textLength="131.81" lengthAdjust="spacingAndGlyphs">113,85</text>
<polygon points="1393.7,424.6 1398.1,424.6 1395.9,432.1" fill="#fff"/><path d="M1339.9,327.5H1452.1A24,24 0 0 1 1476.1,351.5V376.1A24,24 0 0 1 1452.1,400.1H1410.4Q1399.5,406.6 1395.9,425Q1392.3,406.6 1381.4,400.1H1339.9A24,24 0 0 1 1315.9,376.1V351.5A24,24 0 0 1 1339.9,327.5Z" fill="#58585a" stroke="#fff" stroke-width="6" stroke-linejoin="round" paint-order="stroke"/><text class="num" x="1355.31" y="381.8" font-size="51" textLength="76.67" lengthAdjust="spacingAndGlyphs">1,41</text>
<polygon points="1108.7,1031.6 1113.1,1031.6 1110.9,1039.1" fill="#fff"/><path d="M1054.9,934.5H1167.1A24,24 0 0 1 1191.1,958.5V983.1A24,24 0 0 1 1167.1,1007.1H1125.4Q1114.5,1013.6 1110.9,1032Q1107.3,1013.6 1096.4,1007.1H1054.9A24,24 0 0 1 1030.9,983.1V958.5A24,24 0 0 1 1054.9,934.5Z" fill="#7a0316" stroke="#fff" stroke-width="6" stroke-linejoin="round" paint-order="stroke"/><text class="num" x="1057.50" y="989.7" font-size="51" textLength="107.42" lengthAdjust="spacingAndGlyphs">39,94</text>
<text class="src" x="17.25" y="1538" font-size="43" textLength="408.51" lengthAdjust="spacingAndGlyphs">Источник: МВД России</text>
<rect x="1576.2" y="1470.4" width="133.9" height="67.6" fill="#fff"/>
<path fill="#3b2a70" d="M1586.8,1480.4H1594V1486.8H1600.2V1480.4H1634V1527.8H1586.8Z"/>
<rect x="1594" y="1493.8" width="6.2" height="26.8" fill="#fff"/>
<polygon fill="#fff" points="1607.2,1493.8 1627,1493.8 1627,1499.2 1615.5,1514.6 1627,1514.6 1627,1520.6 1607.2,1520.6 1607.2,1515.2 1618.7,1499.8 1607.2,1499.8"/>
<text y="1520.6" font-size="39" font-weight="bold" fill="#3b2a70" stroke="#3b2a70" stroke-width="0.9"><tspan x="1637.3" font-size="44">.</tspan><tspan x="1650.7" textLength="51.6" lengthAdjust="spacingAndGlyphs">RU</tspan></text>
</svg></body></html>
